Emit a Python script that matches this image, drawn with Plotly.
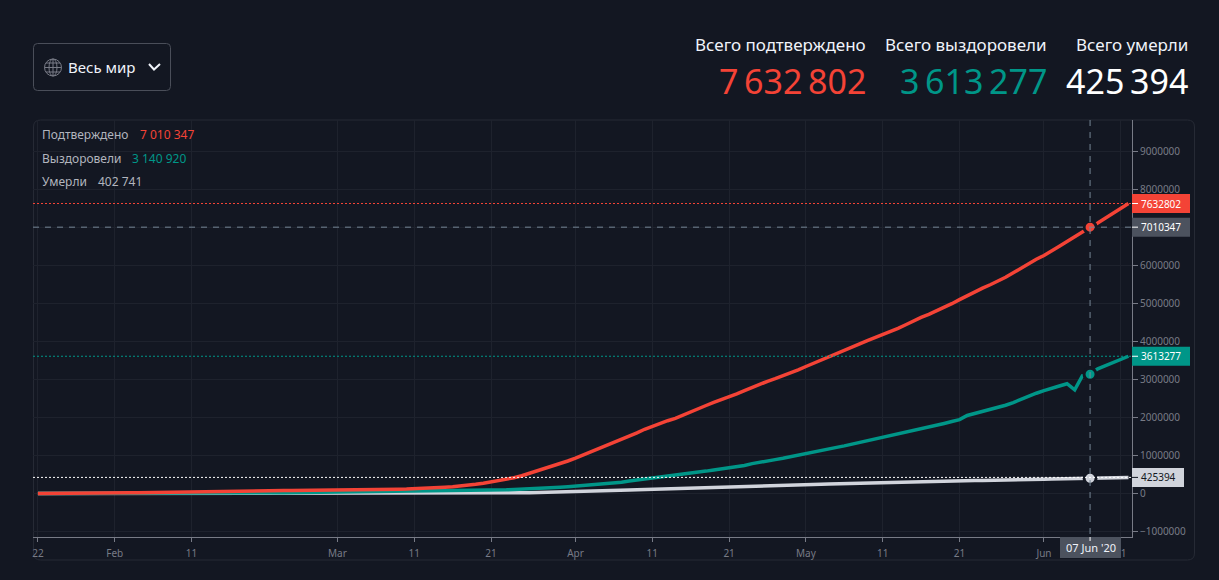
import pandas as pd
import plotly.graph_objects as go

W, H = 1219, 580
BG = "#131722"
RED, TEAL, LIGHT, GREY = "#f44336", "#009688", "#d1d4dc", "#787b86"
FONT = "Noto Sans"

confirmed = [555,654,941,1434,2118,2927,5578,6166,8234,9927,
 12038,16787,19881,23892,27635,30794,34391,37120,40150,42762,44802,45221,60368,66885,69030,71224,73258,75136,75639,76197,76819,78572,78958,79561,80406,81388,82746,84112,86011,
 88369,90306,92840,95120,97886,101801,105847,109821,113590,118620,125875,128352,145205,156101,167454,181574,197102,214821,242570,272208,304507,336953,378235,418045,467653,529591,593291,660693,720140,782389,857487,
 932605,1013157,1095917,1197405,1272115,1345048,1426096,1511104,1595350,1691719,1771514,1846680,1917320,1976192,2056054,2152646,2240190,2317758,2401378,2472259,2549046,2624074,2708885,2795731,2881140,2955033,3023722,3097229,3172287,3256846,
 3343777,3427584,3506729,3583055,3662691,3755341,3845718,3937978,4024009,4101699,4177502,4261747,4347018,4442163,4542347,4634068,4713620,4801943,4897492,4996472,5102424,5210817,5310362,5407613,5495061,5589626,5691790,5808946,5930105,6059017,6166946,
 6265852,6378237,6508635,6632985,6764649,6891215,7010347,7119000,7242000,7370000,7503000,7632802]
recovered = [28,30,36,39,52,61,107,126,143,222,
 284,472,623,852,1124,1487,2011,2616,3244,3946,4683,5150,6295,8058,9395,10865,12583,14352,16121,18177,18890,22886,23394,25227,27905,30384,33277,36711,39782,
 42716,45602,48228,51170,53796,55865,58358,60694,62494,64404,67003,68324,70251,72624,76034,78088,80840,83207,84854,87256,91000,97000,98000,108000,114000,122000,131000,140000,149000,165000,178000,
 193000,210000,226000,247000,260000,276000,300000,328000,353000,376000,402000,421000,449000,474000,510000,542000,568000,591000,622000,645000,668000,710000,737000,788000,816000,865000,893000,928000,972000,1015000,
 1060000,1100000,1135000,1175000,1215000,1255000,1300000,1340000,1385000,1425000,1470000,1510000,1560000,1610000,1665000,1700000,1745000,1795000,1845000,1895000,1945000,2055000,2110000,2160000,2205000,2265000,2325000,2395000,2480000,2565000,2640000,
 2710000,2760000,2830000,2890000,2730000,3100000,3140920,3280000,3365000,3445000,3530000,3613277]
deaths = [17,18,26,42,56,82,131,133,171,213,
 259,362,426,492,564,634,719,806,906,1013,1113,1118,1371,1523,1666,1770,1868,2007,2122,2247,2251,2458,2469,2629,2708,2770,2814,2872,2941,
 2996,3085,3160,3254,3348,3460,3558,3802,3988,4262,4615,4720,5404,5819,6440,7126,7905,8733,9867,11299,13000,14600,16500,18600,21200,24300,27700,31500,34800,38600,43000,
 48000,54000,60000,67000,72000,77000,84000,91000,98000,105000,112000,118000,124000,131000,141000,153000,160000,166000,171000,178000,184000,191000,198000,205000,209000,213000,218000,225000,230000,235000,
 239000,243000,247000,251000,257000,263000,269000,274000,278000,282000,286000,291000,297000,302000,307000,312000,315000,319000,324000,329000,334000,339000,343000,346000,347000,351000,356000,360000,365000,369000,372000,
 376000,380000,385000,391000,394000,399000,402741,407000,412000,417000,421000,425394]
dates = pd.date_range("2020-01-22", periods=len(confirmed), freq="D")

x_tick_dates = ["2020-01-22","2020-02-01","2020-02-11","2020-03-01","2020-03-11","2020-03-21","2020-04-01",
                "2020-04-11","2020-04-21","2020-05-01","2020-05-11","2020-05-21","2020-06-01","2020-06-11"]
x_tick_labels = ["22","Feb","11","Mar","11","21","Apr","11","21","May","11","21","Jun","11"]
y_tick_vals = [-1000000,0,1000000,2000000,3000000,4000000,5000000,6000000,7000000,8000000,9000000]
y_tick_labels = ["\u22121000000","0","1000000","2000000","3000000","4000000","5000000","6000000","7000000","8000000","9000000"]

cross_date = "2020-06-07"
cross_conf, cross_rec, cross_dead = 7010347, 3140920, 402741
last_conf, last_rec, last_dead = 7632802, 3613277, 425394

def fx(p): return p / W
def fy(p): return 1 - p / H

base = pd.Timestamp("2020-01-22")
x_range = [base + pd.Timedelta(days=-0.64), base + pd.Timedelta(days=142.46)]
x_range = [t.strftime("%Y-%m-%d %H:%M:%S") for t in x_range]

fig = go.Figure()
for name, vals, col in [("Умерли", deaths, LIGHT), ("Выздоровели", recovered, TEAL), ("Подтверждено", confirmed, RED)]:
    fig.add_trace(go.Scatter(x=dates, y=vals, mode="lines", name=name, line=dict(color=col, width=3.5), hoverinfo="skip"))
for vals, col in [(cross_dead, LIGHT), (cross_rec, TEAL), (cross_conf, RED)]:
    fig.add_trace(go.Scatter(x=[cross_date], y=[vals], mode="markers", hoverinfo="skip",
                             marker=dict(color=col, size=12, line=dict(color=BG, width=3))))

shapes = []
def seg(x0, y0, x1, y1, color, width=1, dash="solid"):
    shapes.append(dict(type="line", xref="paper", yref="paper", x0=fx(x0), y0=fy(y0), x1=fx(x1), y1=fy(y1),
                       line=dict(color=color, width=width, dash=dash)))

def rounded(x0, y0, x1, y1, r, color, fill=None):
    a, b, c, d = fx(x0), fx(x1), fy(y0), fy(y1)
    rx, ry = r / W, r / H
    path = (f"M{a+rx},{c} L{b-rx},{c} Q{b},{c} {b},{c-ry} L{b},{d+ry} Q{b},{d} {b-rx},{d} "
            f"L{a+rx},{d} Q{a},{d} {a},{d+ry} L{a},{c-ry} Q{a},{c} {a+rx},{c} Z")
    shapes.append(dict(type="path", path=path, xref="paper", yref="paper", layer="below",
                       line=dict(color=color, width=1), fillcolor=fill or "rgba(0,0,0,0)"))

# panel frame and dropdown
rounded(33.5, 120, 1194.5, 560, 7, "#262a35")
rounded(33.5, 43.5, 170.5, 90.5, 4, "#4a4e59")
# globe
def ell(cx, cy, rx, ry):
    shapes.append(dict(type="circle", xref="paper", yref="paper", x0=fx(cx-rx), x1=fx(cx+rx), y0=fy(cy-ry), y1=fy(cy+ry),
                       line=dict(color="#787b86", width=1)))
ell(53, 67.5, 8.5, 8.5); ell(53, 67.5, 4, 8.5)
seg(53, 59, 53, 76, "#787b86"); seg(44.5, 67.5, 61.5, 67.5, "#787b86")
seg(46, 63, 60, 63, "#787b86"); seg(46, 72, 60, 72, "#787b86")
# chevron
shapes.append(dict(type="path", xref="paper", yref="paper", line=dict(color="#f0f3fa", width=2),
                   path=f"M{fx(149)},{fy(64)} L{fx(154)},{fy(69.5)} L{fx(160)},{fy(64)}"))

# price lines and crosshair
for val, col in [(last_conf, RED), (last_rec, TEAL), (last_dead, "#ffffff")]:
    shapes.append(dict(type="line", xref="paper", yref="y", x0=fx(33), x1=fx(1132), y0=val, y1=val,
                       line=dict(color=col, width=1, dash="2px,2px")))
shapes.append(dict(type="line", xref="paper", yref="y", x0=fx(33), x1=fx(1132), y0=cross_conf, y1=cross_conf,
                   line=dict(color="#758696", width=1, dash="6px,6px")))
shapes.append(dict(type="line", xref="x", yref="paper", x0=cross_date, x1=cross_date, y0=fy(120), y1=fy(537),
                   line=dict(color="#758696", width=1, dash="6px,6px")))

# right-hand value labels
for val, bg, x1 in [(last_conf, RED, 1190), (cross_conf, "#4c525e", 1190), (last_rec, TEAL, 1190), (last_dead, LIGHT, 1184)]:
    shapes.append(dict(type="rect", xref="paper", yref="y", ysizemode="pixel", yanchor=val, y0=-9.5, y1=9.5,
                       x0=fx(1132), x1=fx(x1), fillcolor=bg, line=dict(width=0)))
    tick = "#131722" if bg == LIGHT else "#ffffff"
    shapes.append(dict(type="line", xref="paper", yref="y", x0=fx(1132), x1=fx(1138), y0=val, y1=val,
                       line=dict(color=tick, width=1)))
# date label
shapes.append(dict(type="rect", xref="paper", yref="paper", x0=fx(1060), x1=fx(1121), y0=fy(537), y1=fy(558),
                   fillcolor="#4c525e", line=dict(width=0)))
shapes.append(dict(type="line", xref="x", yref="paper", x0=cross_date, x1=cross_date, y0=fy(537), y1=fy(541),
                   line=dict(color="#ffffff", width=1)))

def note(x, y, text, size, color, anchor="left", yref="paper"):
    fig.add_annotation(x=fx(x), y=fy(y) if yref == "paper" else y, xref="paper", yref=yref, text=text, showarrow=False,
                       xanchor=anchor, yanchor="middle", font=dict(family=FONT, size=size, color=color),
                       borderpad=0, borderwidth=0)

note(68, 67, "Весь мир", 15, "#f0f3fa")
TS = "\u2009"
note(866, 45, "Всего подтверждено", 17, "#f0f3fa", "right")
note(1047, 45, "Всего выздоровели", 17, "#f0f3fa", "right")
note(1188, 45, "Всего умерли", 17, "#f0f3fa", "right")
note(866, 81, f"7{TS}632{TS}802", 34, RED, "right")
note(1047, 81, f"3{TS}613{TS}277", 34, TEAL, "right")
note(1188, 81, f"425{TS}394", 34, "#ffffff", "right")

note(42, 135, "Подтверждено", 12, "#b2b5be")
note(140, 135, "7 010 347", 12, RED)
note(42, 158, "Выздоровели", 12, "#b2b5be")
note(132, 158, "3 140 920", 12, TEAL)
note(42, 181, "Умерли", 12, "#b2b5be")
note(98, 181, "402 741", 12, "#b2b5be")

for val, text, col in [(last_conf, "7632802", "#ffffff"), (cross_conf, "7010347", "#ffffff"),
                       (last_rec, "3613277", "#ffffff"), (last_dead, "425394", "#131722")]:
    note(1141, val, text, 10, col, yref="y")
note(1090.5, 547.5, "07 Jun '20", 11, "#f0f3fa", "center")

grid = "#1e222d"
fig.update_layout(
    width=W, height=H, margin=dict(l=0, r=0, t=0, b=0, autoexpand=False), paper_bgcolor=BG, plot_bgcolor=BG,
    showlegend=False, hovermode=False, shapes=shapes, font=dict(family=FONT),
    xaxis=dict(domain=[fx(33), fx(1132)], range=x_range, type="date", tickmode="array",
               tickvals=x_tick_dates, ticktext=x_tick_labels, tickfont=dict(size=10, color=GREY, family=FONT),
               ticks="outside", ticklen=4, tickcolor=GREY, showline=True, linecolor=GREY, linewidth=1,
               showgrid=True, gridcolor=grid, gridwidth=1, zeroline=False, ticklabelstandoff=3),
    yaxis=dict(domain=[fy(536.5), fy(120)], range=[-1129800, 9830200], side="right", tickmode="array",
               tickvals=y_tick_vals, ticktext=y_tick_labels, tickfont=dict(size=10, color=GREY, family=FONT),
               ticks="outside", ticklen=5, tickcolor=GREY, showline=True, linecolor=GREY, linewidth=1,
               showgrid=True, gridcolor=grid, gridwidth=1, zeroline=False),
)
fig.write_html("out.html", config={"displayModeBar": False},
               post_script=f"document.body.style.margin='0';document.body.style.background='{BG}';document.documentElement.style.overflow='hidden';")
